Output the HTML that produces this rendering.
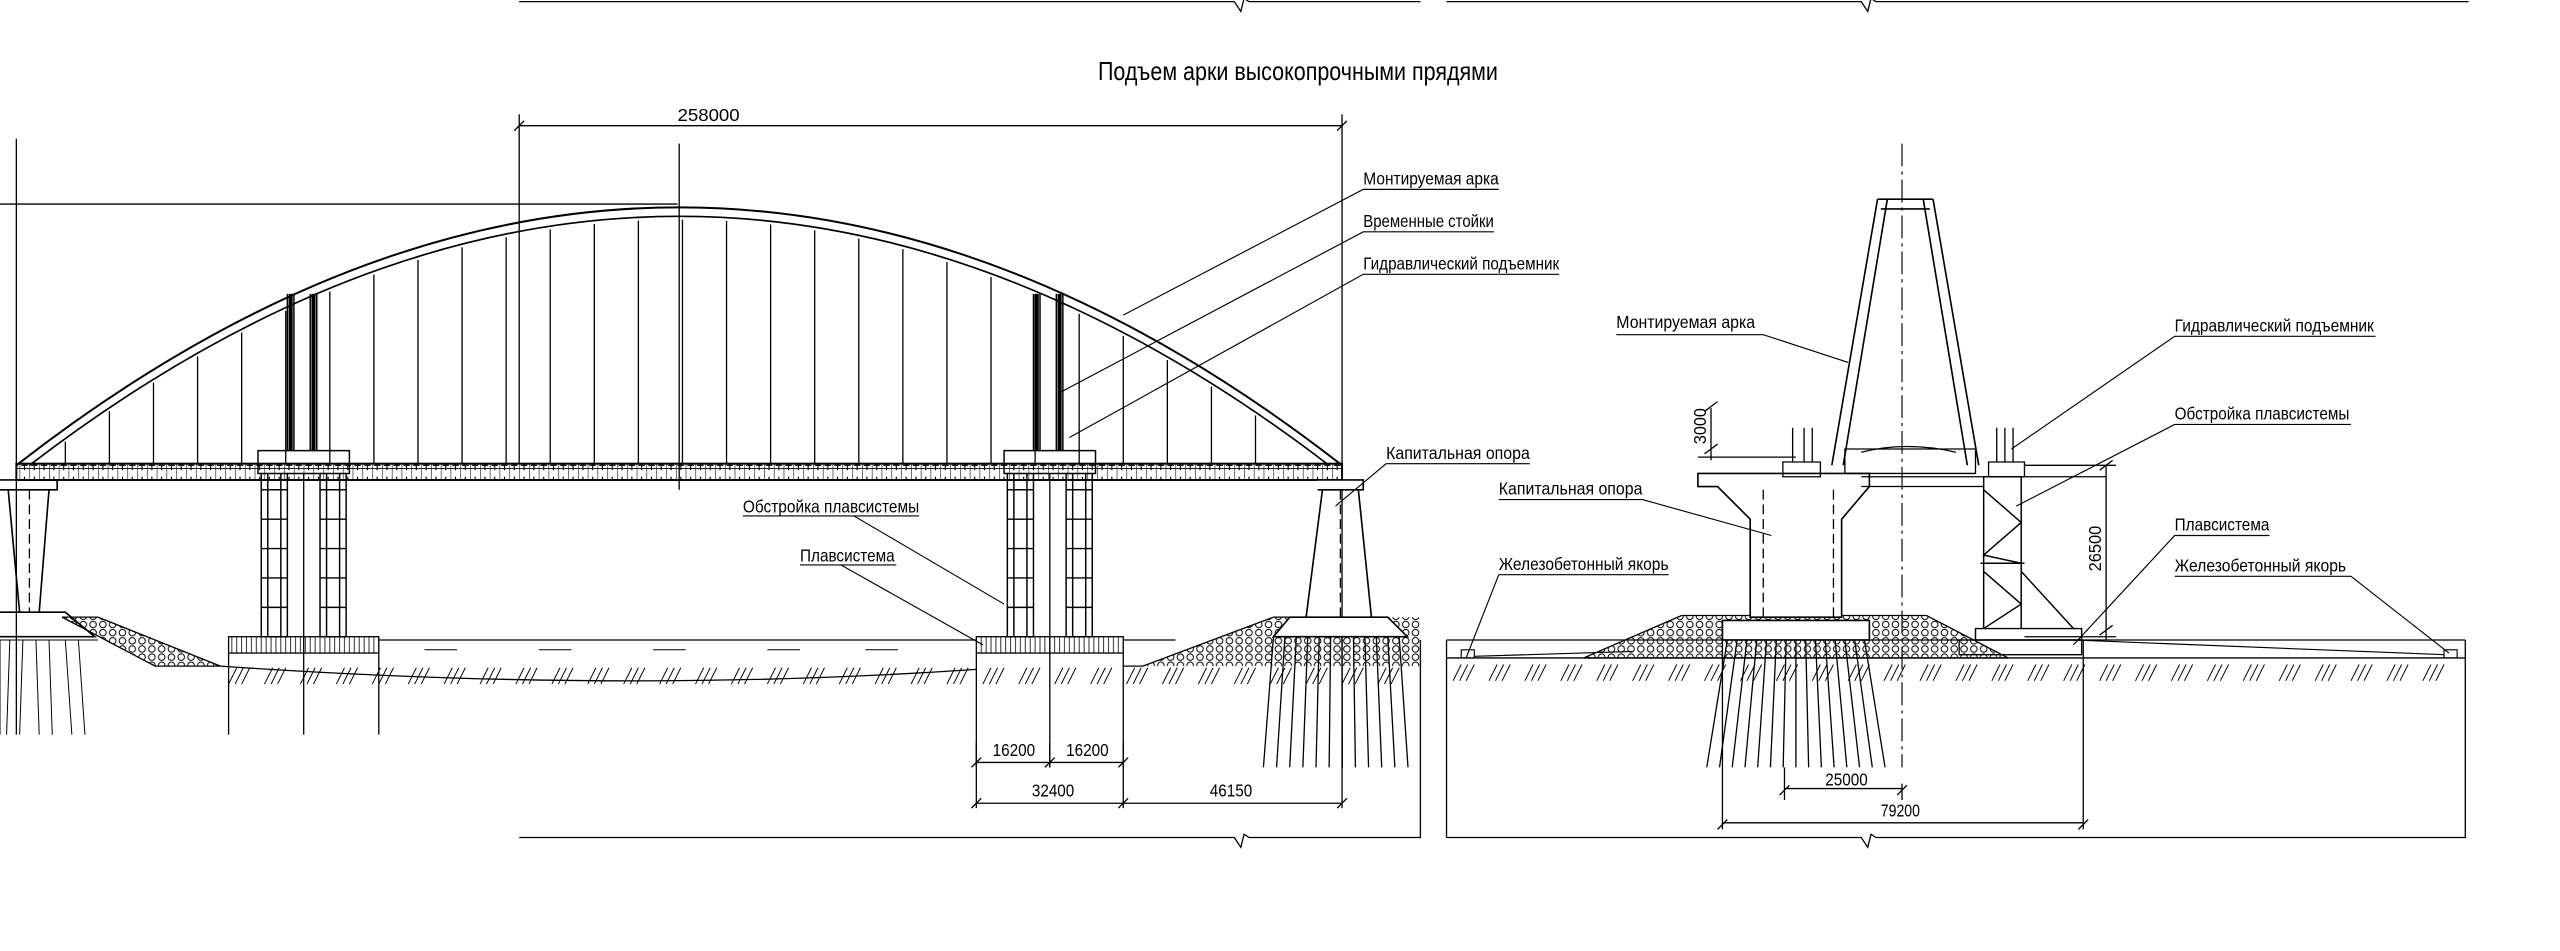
<!DOCTYPE html>
<html><head><meta charset="utf-8"><style>
html,body{margin:0;padding:0;background:#fff;}
svg{display:block}
text{font-family:"Liberation Sans Narrow","Liberation Sans",sans-serif;fill:#000;}
</style></head><body>
<svg id="s" width="2560" height="951" viewBox="0 0 1568 582.5" xmlns="http://www.w3.org/2000/svg" stroke="#000" fill="none" stroke-width="0.8">
<defs>
<pattern id="deck" width="6" height="10" patternUnits="userSpaceOnUse"><path d="M0 0V10M3 2V8M1 5H5" stroke="#000" stroke-width="0.7"/></pattern>
<pattern id="rock" width="6" height="5" patternUnits="userSpaceOnUse"><circle cx="3" cy="2.5" r="2" stroke="#000" stroke-width="0.6"/></pattern>
<pattern id="vert" width="3" height="10" patternUnits="userSpaceOnUse"><path d="M1 0V10" stroke="#000" stroke-width="0.5"/></pattern>
</defs>
<path d="M318 1H756l4 6 2-8 3 2H870M886 1H1140l4 6 2-8 3 2H1512"/>
<path d="M318 513H756l4 6 2-8 3 2H870V392M886 513H1140l4 6 2-8 3 2H1510V392M886 392V513"/>
<text x="795" y="49" font-size="16" text-anchor="middle" stroke="none" textLength="245" lengthAdjust="spacingAndGlyphs">Подъем арки высокопрочными прядями</text>
<path d="M318 77H822M318 70V284M822 70V392M315 80l6-6M819 80l6-6"/>
<text x="415" y="74" font-size="11" stroke="none" textLength="38" lengthAdjust="spacingAndGlyphs">258000</text>
<path d="M0 125H415M10 85V450M416 88V300" />
<path d="M10 285Q416 -31 822 285" stroke-width="1.2"/>
<path d="M18 285Q416 -20 814 285" stroke-width="1"/>
<g id="hangers" stroke-width="0.8"></g>
<rect x="10" y="284" width="812" height="10" fill="url(#deck)" stroke-width="1.2"/>
<path d="M10 287H822" stroke-width="0.6"/>
<path d="M0 294H35V300H0M5 300L12 375M30 300L24 375M0 375H40L58 390H0" stroke-width="1"/>
<path d="M18 300V375" stroke-dasharray="6 3"/>
<path d="M38 378L60 378L135 408L95 408Z" fill="url(#rock)"/>
<path d="M0 392H60M0 392V450M6 392L4 450M14 392L12 450M22 392L24 450M30 392L32 450M40 392L44 450M48 392L52 450" stroke-width="0.6"/>
<g id="tw1"></g>
<rect x="140" y="390" width="92" height="10" fill="url(#vert)"/>
<rect x="598" y="390" width="90" height="10" fill="url(#vert)"/>
<path d="M140 400V450M232 400V450M186 290V450M598 400V470M688 400V470M643 290V470"/>
<path d="M232 392H598M688 392H720M135 408Q380 425 598 410M688 408L700 408L780 378H800"/>
<g stroke-width="0.6"><path d="M260 398h20M330 398h20M400 398h20M470 398h20M530 398h20"/></g>
<g id="hatch1" stroke-width="0.6"></g>
<path d="M700 408L780 378H870V408Z" fill="url(#rock)" stroke="none"/>
<path d="M807 294H835V300H807M810 300L800 378M832 300L840 378M790 378H850L862 390H780Z" stroke-width="1" fill="#fff"/>
<path d="M821 300V378" stroke-dasharray="6 3"/>
<g id="piles1" stroke-width="0.8"></g>
<path d="M598 467H688M598 492H822M643 455V470M688 455V495M598 455V495M822 392V495M595 470l6-6M640 470l6-6M685 470l6-6M595 495l6-6M685 495l6-6M819 495l6-6"/>
<g font-size="11" stroke="none">
<text x="608" y="463" textLength="26" lengthAdjust="spacingAndGlyphs">16200</text>
<text x="653" y="463" textLength="26" lengthAdjust="spacingAndGlyphs">16200</text>
<text x="632" y="488" textLength="26" lengthAdjust="spacingAndGlyphs">32400</text>
<text x="741" y="488" textLength="26" lengthAdjust="spacingAndGlyphs">46150</text>
</g>
<g font-size="11" stroke="none">
<text x="835" y="113" textLength="83" lengthAdjust="spacingAndGlyphs">Монтируемая арка</text>
<text x="835" y="139" textLength="80" lengthAdjust="spacingAndGlyphs">Временные стойки</text>
<text x="835" y="165" textLength="120" lengthAdjust="spacingAndGlyphs">Гидравлический подъемник</text>
<text x="849" y="281" textLength="88" lengthAdjust="spacingAndGlyphs">Капитальная опора</text>
<text x="455" y="314" textLength="108" lengthAdjust="spacingAndGlyphs">Обстройка плавсистемы</text>
<text x="490" y="344" textLength="58" lengthAdjust="spacingAndGlyphs">Плавсистема</text>
</g>
<path d="M918 116H835L688 193M915 142H835L650 240M955 168H835L655 268M937 284H849L818 310M563 316H455M455 316H523L615 370M549 346H490M490 346H515L602 395" stroke-width="0.7"/>

<path d="M1165 88V470" stroke-dasharray="14 3 2 3" stroke-width="0.7"/>
<path d="M886 392H1510M886 403H1510"/>
<g id="hatch2" stroke-width="0.6"></g>
<path d="M970 403L1030 377H1180L1230 403Z" fill="url(#rock)" stroke-width="0.8"/>
<path d="M1040 290H1145V298L1128 318V378H1072V318L1052 298H1040Z" fill="#fff" stroke-width="1"/>
<path d="M1055 380H1145V392H1055Z" fill="#fff" stroke-width="1"/>
<path d="M1080 300V378M1123 300V378" stroke-dasharray="6 3"/>
<g id="piles2" stroke-width="0.8"></g>
<path d="M1150 122L1122 285M1156 122L1129 285M1178 122L1205 285M1184 122L1212 285M1150 122H1184M1152 128H1182" stroke-width="1"/>
<path d="M1130 275H1210V290H1130Z M1140 277Q1168 270 1198 277" />
<path d="M1098 262V283M1105 262V283M1110 262V283M1223 262V283M1228 262V283M1233 262V283M1092 283H1115V292H1092ZM1218 283H1240V292H1218Z"/>
<path d="M1140 292H1290M1140 298H1215"/>
<path d="M1215 292H1238V385H1215ZM1213 345H1240M1215 300L1238 320L1215 340L1238 345M1215 350L1238 370L1215 385M1238 350L1270 385M1210 385H1275V392H1210Z" stroke-width="0.9"/>
<path d="M1200 392H1275V401H1200Z"/>
<path d="M895 403h8v-5h-8zM1497 403h8v-5h-8zM903 402L1000 399M1270 392L1497 401" stroke-width="0.7"/>
<path d="M1048 250V282M1044 252l8-6M1044 278l8-6M1040 280H1100M1290 285V392M1286 288l8-6M1286 389l8-6M1240 285H1296M1240 390H1296"/>
<path d="M1093 470V490M1165 480V490M1093 483H1165M1055 392V508M1276 392V508M1055 504H1276M1090 487l6-6M1162 487l6-6M1052 508l6-6M1273 508l6-6"/>
<g font-size="11" stroke="none">
<text transform="translate(1045 272) rotate(-90)" textLength="22" lengthAdjust="spacingAndGlyphs">3000</text>
<text transform="translate(1287 350) rotate(-90)" textLength="28" lengthAdjust="spacingAndGlyphs">26500</text>
<text x="1118" y="481" textLength="26" lengthAdjust="spacingAndGlyphs">25000</text>
<text x="1152" y="500" textLength="24" lengthAdjust="spacingAndGlyphs">79200</text>
<text x="990" y="201" textLength="85" lengthAdjust="spacingAndGlyphs">Монтируемая арка</text>
<text x="1332" y="203" textLength="122" lengthAdjust="spacingAndGlyphs">Гидравлический подъемник</text>
<text x="1332" y="257" textLength="107" lengthAdjust="spacingAndGlyphs">Обстройка плавсистемы</text>
<text x="918" y="303" textLength="88" lengthAdjust="spacingAndGlyphs">Капитальная опора</text>
<text x="918" y="349" textLength="104" lengthAdjust="spacingAndGlyphs">Железобетонный якорь</text>
<text x="1332" y="325" textLength="58" lengthAdjust="spacingAndGlyphs">Плавсистема</text>
<text x="1332" y="350" textLength="105" lengthAdjust="spacingAndGlyphs">Железобетонный якорь</text>
</g>
<path d="M990 205H1080L1132 222M1455 206H1332L1232 275M1440 260H1332L1235 310M918 306H1006L1085 328M918 352H1022M918 352L898 403M1390 328H1332L1270 395M1437 353H1332L1440 353L1500 400" stroke-width="0.7"/>
</svg>
<script>
var NS="http://www.w3.org/2000/svg";
function L(g,d,w){var p=document.createElementNS(NS,'path');p.setAttribute('d',d);if(w)p.setAttribute('stroke-width',w);document.getElementById(g).appendChild(p);}
for(var x=40;x<=795;x+=27){var tt=(x-18)/796; var yy=(1-tt)*(1-tt)*285+2*(1-tt)*tt*(-20)+tt*tt*285; L('hangers','M'+x+' '+(yy+2)+'V284');}
function tower(x0){var d='';[x0,x0+36].forEach(function(a){d+='M'+a+' 290H'+(a+16)+'V390H'+a+'Z';for(var y=300;y<390;y+=18)d+='M'+a+' '+y+'H'+(a+16);d+='M'+(a+4)+' 290V390M'+(a+12)+' 290V390';});
 d+='M'+(x0-2)+' 276H'+(x0+54)+'V290H'+(x0-2)+'Z';
 d+='M'+(x0+16)+' 180V276M'+(x0+20)+' 180V276M'+(x0+30)+' 180V276M'+(x0+34)+' 180V276';
 L('tw1',d,0.9);
 L('tw1','M'+(x0+18)+' 180V276M'+(x0+32)+' 180V276',2.5);}
tower(160);tower(617);
function hatch(g,x1,x2,y){var d='';for(var x=x1;x<x2;x+=22)d+='M'+x+' '+(y+14)+'l5 -10M'+(x+4)+' '+(y+14)+'l5 -10M'+(x+8)+' '+(y+14)+'l5 -10';L(g,d);}
hatch('hatch1',140,850,405);hatch('hatch2',890,1495,403);
var d='';for(var x=780;x<=862;x+=7){var dx=(x-821)*0.15;d+='M'+x+' 390L'+(x+dx)+' 470';}L('piles1',d);
d='';for(var x=1058;x<=1142;x+=6){var dx=(x-1100)*0.3;d+='M'+x+' 392L'+(x+dx)+' 470';}L('piles2',d);
</script>
</body></html>
